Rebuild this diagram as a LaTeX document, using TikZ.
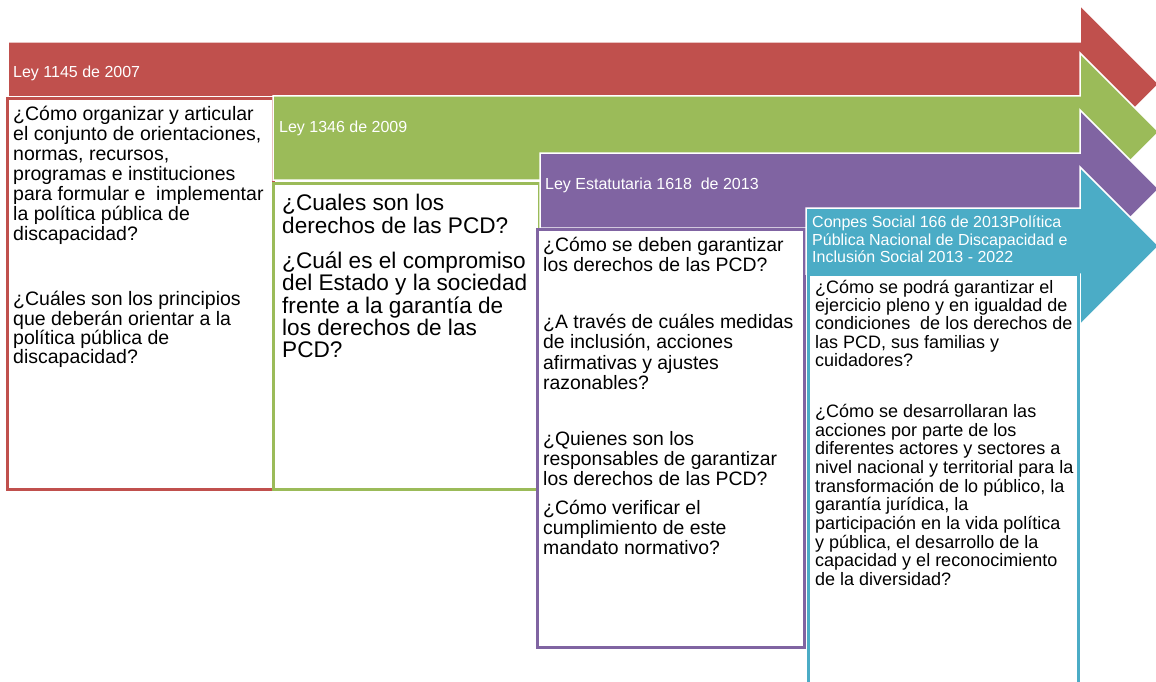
\documentclass[tikz,border=0pt]{standalone}
\usepackage{fontspec}
\setmainfont{Liberation Sans}
\definecolor{cred}{HTML}{C0504D}
\definecolor{cgreen}{HTML}{9BBB59}
\definecolor{cpurple}{HTML}{8064A2}
\definecolor{cteal}{HTML}{4BACC6}
\begin{document}
\begin{tikzpicture}[x=1pt,y=-1pt,
  arrowshape/.style={draw=white, line width=1.5pt, line join=miter},
  qbox/.style={line width=3pt, fill=white},
  lbl/.style={text=white, inner sep=0pt, anchor=north west, align=left, font=\fontsize{16}{17.3}\selectfont},
  qtxt/.style={text=black, inner sep=0pt, anchor=north west, align=left}]
\useasboundingbox (0,0) rectangle (1156,682);
\clip (0,0) rectangle (1156,682);
\fill[white] (0,0) rectangle (1156,682);

% red arrow and box
\fill[arrowshape, fill=cred] (8,42) -- (1080,42) -- (1080,5) -- (1159,84) -- (1080,163) -- (1080,97) -- (8,97) -- cycle;
\draw[qbox, draw=cred] (7.5,98.5) rectangle (273,489);
\node[lbl] (l1) at (13,61.3) {\rule{0pt}{16pt}Ley 1145 de 2007};
\node[qtxt, font=\fontsize{19.5}{20}\selectfont] (r1) at (13,101.2) {\rule{0pt}{19.5pt}¿Cómo organizar y articular\\el conjunto de orientaciones,\\normas, recursos,\\programas e instituciones\\para formular e \ implementar\\la política pública de\\discapacidad?};
\node[qtxt, font=\fontsize{19.5}{19.4}\selectfont] (r2) at (13,286) {\rule{0pt}{19.5pt}¿Cuáles son los principios\\que deberán orientar a la\\política pública de\\discapacidad?};

% green arrow and box
\fill[arrowshape, fill=cgreen] (273,96) -- (1080,96) -- (1080,53) -- (1159,132) -- (1080,211) -- (1080,180) -- (273,180) -- cycle;
\draw[qbox, draw=cgreen] (273,183) rectangle (539,489);
\node[lbl] (l2) at (279,116.7) {\rule{0pt}{16pt}Ley 1346 de 2009};
\node[qtxt, font=\fontsize{22.6}{22.4}\selectfont] (g1) at (282,188) {\rule{0pt}{22.6pt}¿Cuales son los\\derechos de las PCD?};
\node[qtxt, font=\fontsize{22.6}{22.4}\selectfont] (g2) at (282,245.4) {\rule{0pt}{22.6pt}¿Cuál es el compromiso\\del Estado y la sociedad\\frente a la garantía de\\los derechos de las\\PCD?};

% purple arrow and box
\fill[arrowshape, fill=cpurple] (540,153) -- (1080,153) -- (1080,110) -- (1159,189) -- (1080,268) -- (1080,228) -- (540,228) -- cycle;
\draw[qbox, draw=cpurple] (537,229) rectangle (804,647);
\node[lbl] (l3) at (545,173.3) {\rule{0pt}{16pt}Ley Estatutaria 1618 \ de 2013};
\node[qtxt, font=\fontsize{19.4}{20}\selectfont] (p1) at (543,232.3) {\rule{0pt}{19.4pt}¿Cómo se deben garantizar\\los derechos de las PCD?};
\node[qtxt, font=\fontsize{19.4}{20.3}\selectfont] (p2) at (543,308.9) {\rule{0pt}{19.4pt}¿A través de cuáles medidas\\de inclusión, acciones\\afirmativas y ajustes\\razonables?};
\node[qtxt, font=\fontsize{19.4}{20.3}\selectfont] (p3) at (543,425.6) {\rule{0pt}{19.4pt}¿Quienes son los\\responsables de garantizar\\los derechos de las PCD?};
\node[qtxt, font=\fontsize{19.4}{20}\selectfont] (p4) at (543,494.6) {\rule{0pt}{19.4pt}¿Cómo verificar el\\cumplimiento de este\\mandato normativo?};

% teal arrow and box
\fill[arrowshape, fill=cteal] (806,208) -- (1080,208) -- (1080,167) -- (1159,246) -- (1080,325) -- (1080,274) -- (806,274) -- cycle;
\draw[qbox, draw=cteal] (808,274) rectangle (1078,700);
\node[lbl] (l4) at (812,211.7) {\rule{0pt}{16pt}Conpes Social 166 de 2013Política\\Pública Nacional de Discapacidad e\\Inclusión Social 2013 - 2022};
\node[qtxt, font=\fontsize{18}{18.2}\selectfont] (t1) at (815,275.3) {\rule{0pt}{18pt}¿Cómo se podrá garantizar el\\ejercicio pleno y en igualdad de\\condiciones \ de los derechos de\\las PCD, sus familias y\\cuidadores?};
\node[qtxt, font=\fontsize{18}{18.67}\selectfont] (t2) at (815,399.3) {\rule{0pt}{18pt}¿Cómo se desarrollaran las\\acciones por parte de los\\diferentes actores y sectores a\\nivel nacional y territorial para la\\transformación de lo público, la\\garantía jurídica, la\\participación en la vida política\\y pública, el desarrollo de la\\capacidad y el reconocimiento\\de la diversidad?};
\end{tikzpicture}
\end{document}
